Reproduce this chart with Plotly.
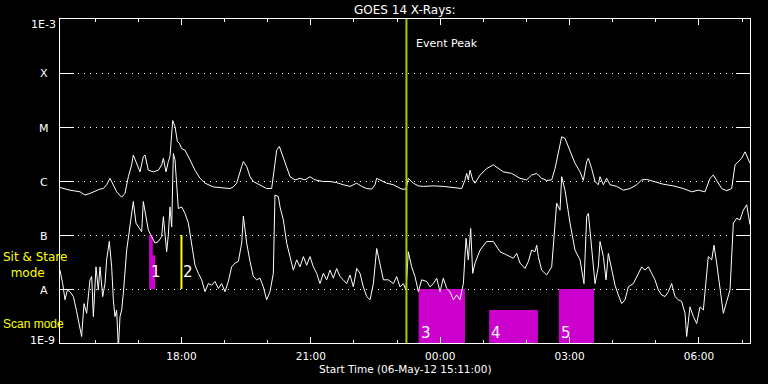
import math
import plotly.graph_objects as go
from datetime import datetime, timedelta

# ---------------- data ----------------
START = datetime(2012, 5, 6, 15, 11, 0)
SPAN_MIN = 960  # plotted window length in minutes

# Long channel (1-8 A): minutes after start, log10 flux (W/m^2)
long_min = [0, 13.9, 27.8, 34.8, 41.7, 46.4, 51.0, 55.7, 60.3, 64.9,
            69.6, 74.2, 78.8, 85.8, 90.4, 95.1, 99.7, 102.0, 106.7, 111.3,
            115.9, 118.3, 122.9, 129.9, 136.8, 141.5, 143.8, 147.5, 150.7, 153.0,
            156.8, 160.0, 163.3, 166.0, 169.3, 173.9, 180.9, 187.8, 194.8, 201.7,
            213.3, 227.3, 236.5, 241.2, 245.8, 252.8, 255.1, 259.7, 264.4, 269.0,
            278.3, 287.5, 294.5, 296.8, 301.5, 305.2, 308.4, 315.4,
            320, 327.0, 333.9, 340.9, 347.8, 354.8, 366.4, 375.7, 384.9, 394.2,
            403.5, 412.8, 419.7, 426.7, 433.6, 438.3, 440.6, 445.2, 454.5, 463.8,
            468.4, 475.4, 481.4, 484.6, 491.6, 498.6, 505.5, 519.4, 533.3, 547.3,
            558.9, 563.5, 565.8, 568.1, 570.5, 574.2, 577.4, 584.4, 593.6, 602.9,
            609.9, 616.8, 628.4,
            640, 649.3, 656.2, 663.2, 670.1, 677.1, 684.1, 688.7, 693.3, 698.0,
            702.6, 709.6, 716.5, 723.5, 728.1, 732.8, 735.1, 739.7, 744.4, 749.0,
            751.3, 756.0, 760.6, 765.2, 774.5, 783.8, 793.1, 802.3, 809.3, 816.2,
            825.5, 839.4, 853.3, 867.3, 878.9, 888.1, 897.4, 904.4, 909.0, 913.6,
            920.6, 927.6, 934.5, 939.2, 943.8, 948.4, 953.1, 957.7, 960]
long_log = [-6.12, -6.17, -6.20, -6.26, -6.23, -6.20, -6.17, -6.15, -6.14, -6.07,
            -5.95, -6.07, -6.20, -6.30, -6.23, -5.92, -5.70, -5.52, -5.67, -5.83,
            -5.55, -5.52, -5.80, -5.83, -5.80, -5.70, -5.58, -5.83, -5.64, -5.55,
            -4.88, -4.99, -5.27, -5.30, -5.40, -5.43, -5.61, -5.80, -5.95, -6.04,
            -6.11, -6.12, -6.14, -6.11, -6.04, -5.73, -5.64, -5.73, -5.92, -6.01,
            -6.07, -6.14, -6.14, -5.89, -5.43, -5.36, -5.49, -5.77,
            -5.92, -5.98, -5.95, -5.98, -5.92, -5.98, -6.01, -6.01, -6.03, -6.07,
            -6.10, -6.04, -6.10, -6.14, -6.15, -6.07, -5.95, -5.98, -6.04, -6.07,
            -6.10, -6.15, -6.15, -5.95, -6.04, -6.09, -6.10, -6.09, -6.10, -6.12,
            -6.14, -5.98, -5.86, -5.98, -5.80, -5.98, -6.04, -5.89, -5.77, -5.70,
            -5.77, -5.83, -5.86,
            -5.95, -5.98, -5.89, -5.86, -5.95, -5.99, -5.98, -5.77, -5.49, -5.18,
            -5.21, -5.43, -5.67, -5.83, -5.99, -5.64, -5.58, -5.77, -6.01, -6.07,
            -5.92, -6.07, -5.95, -6.07, -6.10, -6.17, -6.14, -6.07, -5.98, -5.97,
            -6.01, -6.06, -6.09, -6.14, -6.20, -6.17, -6.20, -5.95, -5.89, -5.98,
            -6.14, -6.18, -6.14, -5.70, -5.64, -5.58, -5.46, -5.61, -5.67]

# Short channel (0.5-4 A)
short_min = [0, 3.7, 7.0, 10.2, 13.9, 18.6, 23.2, 27.8, 30.1, 33.4,
             37.1, 41.7, 44.1, 46.4, 50.1, 53.3, 55.7, 59.4, 62.6, 64.9,
             68.6, 71.9, 74.2, 76.5, 78.8, 81.2, 83.5, 85.8, 88.1, 92.8,
             97.4, 102.0, 105.7, 109.0, 113.6, 115.9, 119.7, 122.9, 127.5, 132.2,
             136.8, 141.5, 143.8, 146.1, 148.4, 150.7, 153.0, 155.4, 157.7, 160.0,
             162.3, 164.6, 169.3, 173.9, 178.6, 183.2, 187.8, 192.5, 197.1, 201.7,
             206.4, 211.0, 215.7, 220.3, 224.9, 229.6, 234.2, 238.8, 243.5, 248.1,
             252.8, 255.1, 259.7, 264.4, 269.0, 273.6, 278.3, 282.9, 287.5, 292.2,
             296.8, 299.1, 303.8, 306.1, 310.7, 315.4,
             320, 324.6, 329.3, 333.9, 338.6, 343.2, 347.8, 352.5, 357.1, 361.7,
             366.4, 371.0, 375.7, 380.3, 384.9, 389.6, 394.2, 398.8, 403.5, 408.1,
             412.8, 417.4, 422.0, 426.7, 431.3, 436.0, 440.6, 445.2, 449.9, 456.8,
             463.8, 468.4, 473.1, 477.7, 481.4, 484.6, 489.3, 493.9, 498.6, 503.2,
             510.2, 514.8, 519.4, 524.1, 528.7, 533.3, 538.0, 542.6, 547.3, 551.9,
             556.5, 561.2, 564.9, 568.1, 571.4, 574.2, 577.4, 584.4, 593.6, 602.9,
             612.2, 621.5, 630.7, 635.4,
             640, 647.0, 651.6, 656.2, 660.9, 663.2, 665.5, 670.1, 677.1, 684.1,
             688.7, 691.0, 695.7, 698.0, 702.6, 709.6, 716.5, 723.5, 729.0, 732.8,
             735.1, 739.7, 744.4, 749.0, 751.3, 756.0, 759.7, 762.9, 767.5, 772.2,
             776.8, 781.5, 786.1, 790.7, 797.7, 804.6, 809.3, 813.9, 818.6, 823.2,
             827.8, 832.5, 837.1, 841.8, 846.4, 851.0, 855.7, 860.3, 864.9, 869.6,
             871.9, 876.5, 881.2, 885.8, 890.5, 895.1, 902.0, 906.7, 909.9, 913.6,
             918.3, 922.9, 927.6, 932.2, 936.8, 941.5, 946.1, 950.7, 955.4, 960.0]
short_log = [-7.65, -7.90, -8.20, -8.02, -8.05, -8.14, -8.42, -8.70, -8.88, -8.27,
             -8.45, -7.83, -7.77, -8.51, -7.59, -8.02, -7.59, -8.14, -7.90, -7.46,
             -7.12, -7.59, -8.20, -8.51, -8.39, -9.10, -8.51, -8.39, -8.08, -7.28,
             -6.85, -6.38, -6.78, -6.85, -6.94, -6.38, -6.63, -6.91, -7.03, -7.15,
             -7.12, -7.03, -6.66, -6.97, -7.31, -7.00, -6.48, -6.85, -5.49, -5.61,
             -6.01, -6.51, -6.48, -6.60, -6.78, -7.15, -7.56, -7.71, -7.83, -8.05,
             -7.90, -7.93, -7.86, -7.99, -7.90, -8.05, -7.86, -7.59, -7.52, -7.49,
             -7.15, -6.65, -7.15, -7.49, -7.77, -7.83, -7.80, -7.96, -8.20, -8.05,
             -7.71, -6.26, -6.29, -6.48, -6.72, -7.15,
             -7.43, -7.65, -7.46, -7.59, -7.40, -7.56, -7.40, -7.59, -7.71, -7.90,
             -7.71, -7.83, -7.65, -7.80, -7.62, -7.77, -7.83, -7.90, -7.74, -7.96,
             -7.62, -7.71, -7.96, -8.14, -8.20, -7.90, -7.25, -7.52, -7.83, -7.83,
             -7.90, -7.77, -7.96, -7.90, -8.02, -7.31, -7.59, -7.77, -8.05, -7.83,
             -7.86, -7.96, -7.90, -7.80, -8.05, -7.80, -7.99, -8.05, -8.20, -8.11,
             -8.20, -7.90, -7.06, -7.46, -6.88, -7.71, -7.52, -7.28, -7.12, -7.12,
             -7.31, -7.37, -7.43, -7.34,
             -7.52, -7.62, -7.49, -7.28, -7.31, -7.19, -7.40, -7.65, -7.74, -7.59,
             -6.78, -6.41, -6.54, -5.92, -6.17, -6.78, -7.28, -7.46, -7.90, -6.66,
             -6.60, -7.28, -7.90, -7.59, -7.12, -7.40, -7.83, -7.34, -7.65, -7.93,
             -8.11, -8.27, -8.20, -7.96, -7.90, -7.71, -7.59, -7.65, -7.59, -7.71,
             -7.83, -8.02, -8.11, -8.14, -8.05, -7.90, -8.14, -8.20, -8.23, -8.45,
             -8.88, -8.33, -8.51, -8.64, -8.33, -8.39, -7.40, -7.46, -7.19, -7.52,
             -8.02, -8.45, -8.23, -8.02, -6.78, -6.69, -6.72, -6.54, -6.44, -6.81]

# Y axis classes
level_labels = ["1E-9", "A", "B", "C", "M", "X", "1E-3"]
level_flux = [1e-9, 1e-8, 1e-7, 1e-6, 1e-5, 1e-4, 1e-3]

# Event peak time
event_peak = "2012-05-06 23:13"

# Observations: label, start, end, top flux, bottom flux
obs_labels = ["1", "2", "3", "4", "5"]
obs_start = ["2012-05-06 17:15", "2012-05-06 18:00", "2012-05-06 23:30",
             "2012-05-07 01:08", "2012-05-07 02:45"]
obs_end = ["2012-05-06 17:23:30", "2012-05-06 18:00", "2012-05-07 00:34:30",
           "2012-05-07 02:16", "2012-05-07 03:34"]
obs_top = [1e-7, 1e-7, 1e-8, 4.1e-9, 1e-8]
obs_bottom = [1e-8, 1e-8, 1e-9, 1e-9, 1e-9]
obs1_step = ("2012-05-06 17:20", 4.2e-8)  # top of obs 1 drops here

MAGENTA = "#cc00cc"
YELLOW = "#ffff00"
PEAK_COL = "#9fcf00"
FONT = "DejaVu Sans"

# ---------------- figure ----------------
def t(m):
    return START + timedelta(minutes=m)

fig = go.Figure()

# observation bars (below curves)
for i, lab in enumerate(obs_labels):
    if lab == "2":
        fig.add_trace(go.Scatter(x=[obs_start[i], obs_end[i]], y=[obs_bottom[i], obs_top[i]],
                                 mode="lines", line=dict(color=YELLOW, width=2),
                                 hoverinfo="skip", showlegend=False))
        continue
    if lab == "1":
        xs = [obs_start[i], obs_start[i], obs1_step[0], obs1_step[0], obs_end[i], obs_end[i]]
        ys = [obs_bottom[i], obs_top[i], obs_top[i], obs1_step[1], obs1_step[1], obs_bottom[i]]
    else:
        xs = [obs_start[i], obs_start[i], obs_end[i], obs_end[i]]
        ys = [obs_bottom[i], obs_top[i], obs_top[i], obs_bottom[i]]
    fig.add_trace(go.Scatter(x=xs, y=ys, mode="lines", fill="toself", fillcolor=MAGENTA,
                             line=dict(color=MAGENTA, width=0), hoverinfo="skip",
                             showlegend=False))

fig.add_trace(go.Scatter(x=[t(m) for m in long_min], y=[10 ** v for v in long_log],
                         mode="lines", line=dict(color="white", width=1),
                         showlegend=False))
fig.add_trace(go.Scatter(x=[t(m) for m in short_min], y=[10 ** v for v in short_log],
                         mode="lines", line=dict(color="white", width=1),
                         showlegend=False))

# event peak line
fig.add_trace(go.Scatter(x=[event_peak, event_peak], y=[level_flux[0], level_flux[-1]],
                         mode="lines", line=dict(color=PEAK_COL, width=2),
                         hoverinfo="skip", showlegend=False))

ann = []
# y level labels
for lab, f in zip(level_labels, level_flux):
    p = (math.log10(f) + 9) / 6
    if lab == "1E-3":
        ann.append(dict(text=lab, xref="paper", yref="paper", x=0, y=1, xanchor="right",
                        yanchor="middle", xshift=-2, yshift=-5, showarrow=False,
                        font=dict(color="white", size=11, family=FONT)))
    elif lab == "1E-9":
        ann.append(dict(text=lab, xref="paper", yref="paper", x=0, y=0, xanchor="right",
                        yanchor="middle", xshift=-3, yshift=3, showarrow=False,
                        font=dict(color="white", size=11, family=FONT)))
    else:
        ann.append(dict(text=lab, xref="paper", yref="paper", x=0, y=p, xanchor="center",
                        yanchor="middle", xshift=-16, yshift=-1, showarrow=False,
                        font=dict(color="white", size=11, family=FONT)))

# mode labels
ann.append(dict(text="Sit & Stare<br>&nbsp;&nbsp;mode", xref="paper", yref="paper",
                x=0, y=(343 - 265) / 324, align="left",
                xanchor="left", yanchor="middle", xshift=-59, showarrow=False,
                font=dict(color=YELLOW, size=12, family=FONT)))
ann.append(dict(text="Scan mode", xref="paper", yref="paper", x=0, y=(343 - 324) / 324,
                xanchor="left", yanchor="middle", xshift=-59, showarrow=False,
                font=dict(color=YELLOW, size=12, family="Liberation Sans")))

# observation number labels
for i, lab in enumerate(obs_labels):
    yy = (343 - 272) / 324 if lab in ("1", "2") else (343 - 333) / 324
    ann.append(dict(text=lab, xref="x", yref="paper", x=obs_start[i], y=yy,
                    xanchor="left", yanchor="middle", xshift=0, showarrow=False,
                    font=dict(color="white", size=15, family=FONT)))

ann.append(dict(text="Event Peak", xref="x", yref="paper", x=event_peak, y=(343 - 43) / 324,
                xanchor="left", yanchor="middle", xshift=8, showarrow=False,
                font=dict(color="white", size=11, family=FONT)))
ann.append(dict(text="GOES 14 X-Rays:", xref="paper", yref="paper", x=0.5, y=(343 - 10) / 324,
                xanchor="center", yanchor="middle", showarrow=False,
                font=dict(color="white", size=12, family=FONT)))
ann.append(dict(text="Start Time (06-May-12 15:11:00)", xref="paper", yref="paper", x=0.5,
                y=(343 - 369) / 324, xanchor="center", yanchor="middle", showarrow=False,
                font=dict(color="white", size=10.5, family=FONT)))

fig.update_layout(
    width=768, height=384,
    margin=dict(l=60, r=18, t=19, b=41),
    paper_bgcolor="black", plot_bgcolor="black",
    annotations=ann,
    xaxis=dict(type="date", range=[t(0), t(SPAN_MIN)],
               showline=True, linecolor="white", linewidth=1, mirror="ticks",
               ticks="inside", ticklen=6, tickcolor="white", tickwidth=1,
               dtick=3 * 3600000, tick0="2012-05-06 00:00", tickformat="%H:%M",
               tickfont=dict(color="white", size=10.5, family=FONT),
               ticklabelstandoff=3,
               showgrid=False, zeroline=False,
               minor=dict(dtick=3600000, ticks="inside", ticklen=3, tickcolor="white",
                          tickwidth=1, showgrid=False)),
    yaxis=dict(type="log", range=[-9, -3],
               showline=True, linecolor="white", linewidth=1, mirror="ticks",
               ticks="inside", ticklen=14, tickcolor="white", tickwidth=1,
               tickvals=level_flux, showticklabels=False,
               showgrid=True, gridcolor="white", gridwidth=1, griddash="1px,5px",
               zeroline=False),
)

fig.write_html("out.html", config={"displayModeBar": False},
               post_script="document.body.style.margin='0';document.body.style.background='black';")
